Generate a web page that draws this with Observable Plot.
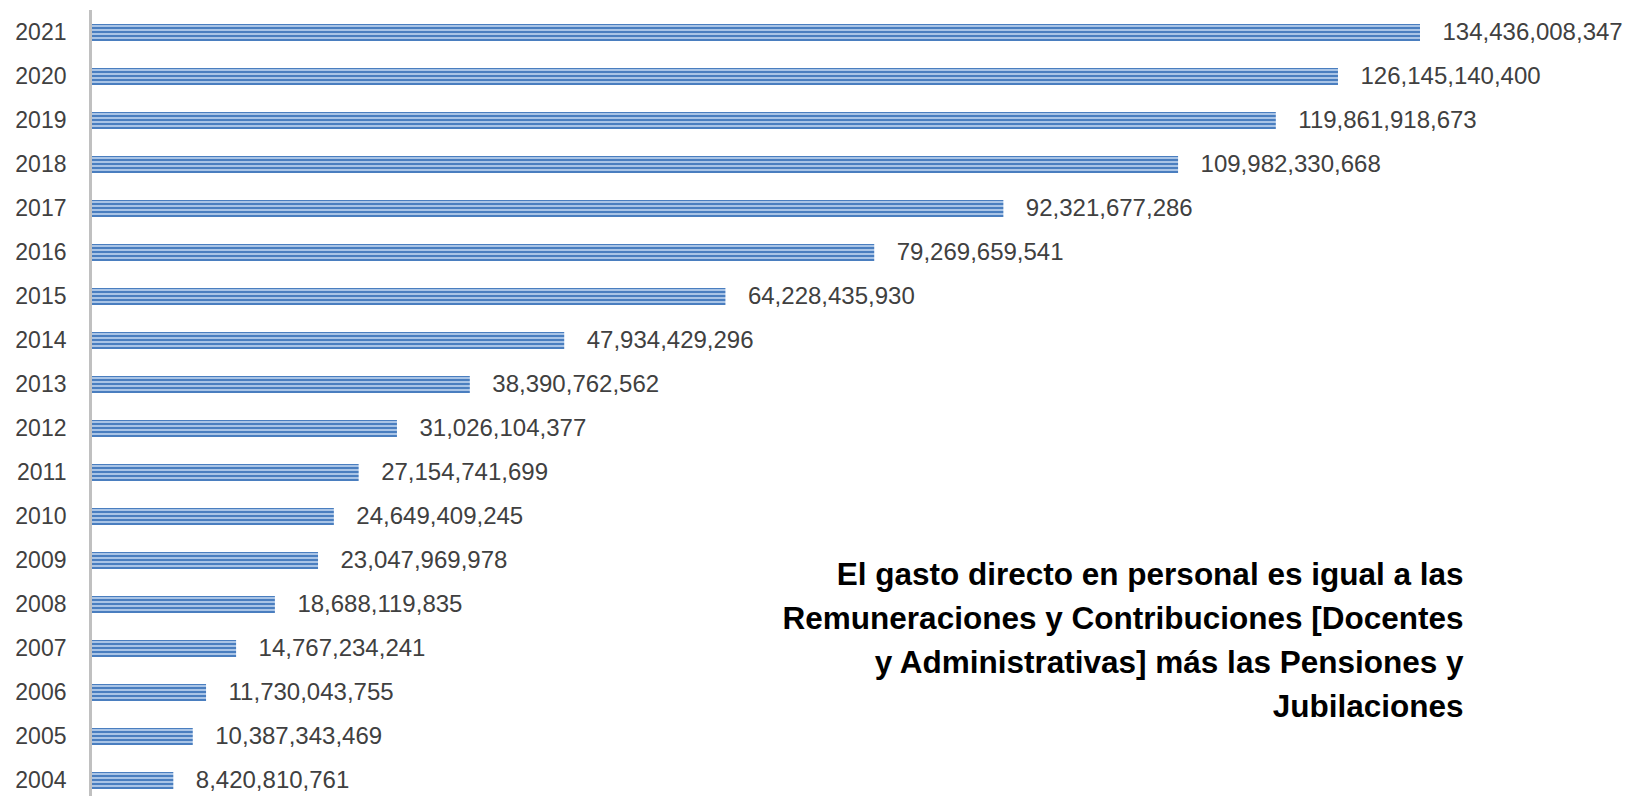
<!DOCTYPE html>
<html>
<head>
<meta charset="utf-8">
<script src="https://cdn.jsdelivr.net/npm/d3@7"></script>
<script src="https://cdn.jsdelivr.net/npm/@observablehq/plot@0.6"></script>
<style>
  html, body { margin: 0; padding: 0; background: #ffffff; }
  #chart svg { display: block; }
</style>
</head>
<body>
<div id="chart"></div>
<script>
const years = [2004, 2005, 2006, 2007, 2008, 2009, 2010, 2011, 2012, 2013, 2014, 2015, 2016, 2017, 2018, 2019, 2020, 2021];
const values = [
  8420810761, 10387343469, 11730043755, 14767234241, 18688119835, 23047969978,
  24649409245, 27154741699, 31026104377, 38390762562, 47934429296, 64228435930,
  79269659541, 92321677286, 109982330668, 119861918673, 126145140400, 134436008347
];
const annotationLines = [
  "El gasto directo en personal es igual a las",
  "Remuneraciones y Contribuciones [Docentes",
  "y Administrativas] más las Pensiones y",
  "Jubilaciones"
];

const data = years.map((y, i) => ({ year: String(y), value: values[i] }));
const fmt = d3.format(",");
const font = "'Liberation Sans', Arial, sans-serif";

const stripes = () => {
  const defs = d3.create("svg:defs");
  const p = defs.append("pattern")
    .attr("id", "stripes")
    .attr("patternUnits", "userSpaceOnUse")
    .attr("width", 10).attr("height", 4).attr("y", 1);
  p.append("rect").attr("width", 10).attr("height", 2).attr("fill", "#a9c4e6");
  p.append("rect").attr("y", 2).attr("width", 10).attr("height", 2).attr("fill", "#4a7ebf");
  return defs.node();
};

const chart = Plot.plot({
  width: 1625,
  height: 796,
  marginTop: 10,
  marginBottom: 0,
  marginLeft: 90,
  marginRight: 0,
  style: { fontFamily: font, background: "#ffffff", overflow: "visible" },
  x: { domain: [0, d3.max(values)], range: [90, 1420], axis: null },
  y: { domain: years.slice().reverse().map(String), range: [10, 802], padding: 0 },
  marks: [
    stripes,
    Plot.barX(data, { x: "value", y: "year", fill: "url(#stripes)", insetTop: 14, insetBottom: 13 }),
    Plot.ruleX([0], { stroke: "#c0c0c0", strokeWidth: 3 }),
    Plot.axisY({ tickSize: 0, tickPadding: 24, fontSize: 23, fill: "#404040", label: null }),
    Plot.text(data, {
      x: "value", y: "year", text: d => fmt(d.value),
      dx: 22, textAnchor: "start", fontSize: 24, fill: "#404040"
    }),
    Plot.text([annotationLines.join("\n")], {
      frameAnchor: "top-right", textAnchor: "end", lineAnchor: "top",
      dx: -162, dy: 543, lineHeight: 1.4,
      fontSize: 31.5, fontWeight: "bold", fill: "#000000"
    })
  ]
});

document.getElementById("chart").appendChild(chart);
</script>
</body>
</html>
